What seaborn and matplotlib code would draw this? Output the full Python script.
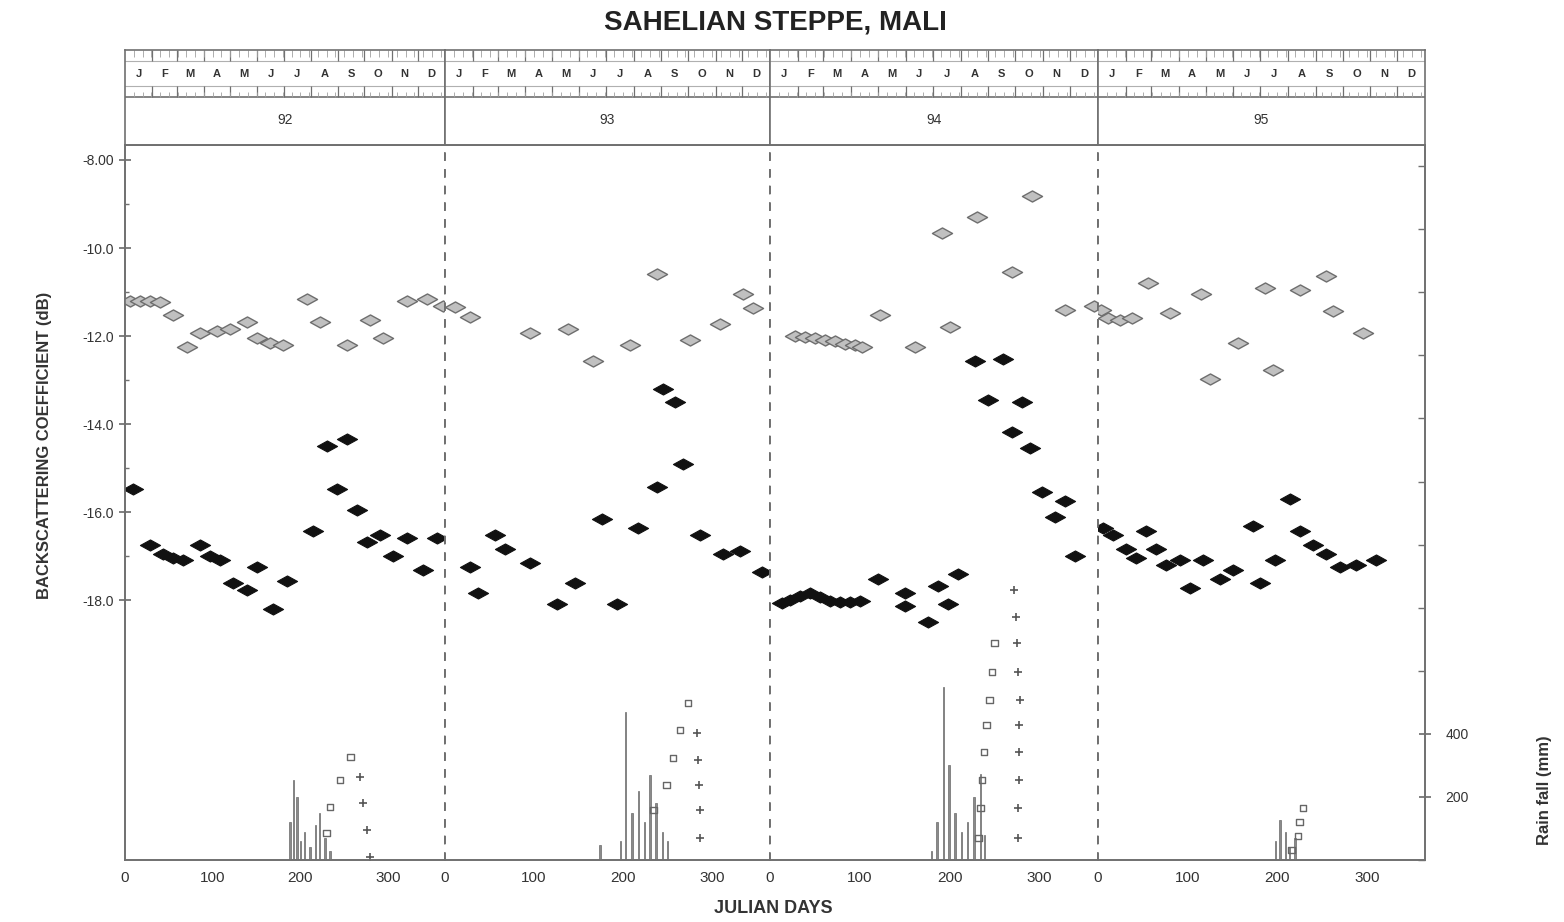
import numpy as np
import pandas as pd
import matplotlib
matplotlib.use("Agg")
import matplotlib.pyplot as plt
from matplotlib.path import Path
from matplotlib.ticker import FixedLocator
import seaborn as sns

# ---------------- data ----------------
years = ["92", "93", "94", "95"]
month_letters = ["J", "F", "M", "A", "M", "J", "J", "A", "S", "O", "N", "D"]
month_starts = [0, 31, 59, 90, 120, 151, 181, 212, 243, 273, 304, 334, 365]
day_ticks = [0, 100, 200, 300]
db_ticks = [-8, -10, -12, -14, -16, -18]
db_minor = [-9, -11, -13, -15, -17]
rain_ticks = [200, 400]

# upper series (open diamonds)
up_days = [
    [6, 17, 29, 40, 55, 71, 86, 105, 120, 139, 151, 165, 180, 208, 222, 253, 279, 294, 322, 344, 363],
    [11, 28, 95, 138, 166, 208, 238, 275, 309, 335, 346],
    [28, 39, 50, 61, 72, 83, 95, 102, 122, 161, 191, 200, 230, 269, 292, 328, 360],
    [3, 11, 25, 38, 56, 80, 115, 125, 156, 186, 195, 225, 254, 262, 296],
]
up_db = [
    [-11.20, -11.20, -11.20, -11.22, -11.52, -12.25, -11.93, -11.89, -11.85, -11.68, -12.05, -12.15, -12.20,
     -11.16, -11.68, -12.20, -11.64, -12.05, -11.20, -11.16, -11.32],
    [-11.35, -11.57, -11.93, -11.83, -12.57, -12.20, -10.59, -12.09, -11.73, -11.05, -11.36],
    [-12.00, -12.02, -12.05, -12.08, -12.12, -12.18, -12.20, -12.25, -11.52, -12.25, -9.66, -11.80,
     -9.30, -10.55, -8.82, -11.41, -11.32],
    [-11.41, -11.59, -11.64, -11.59, -10.80, -11.48, -11.05, -12.98, -12.16, -10.91, -12.77, -10.95,
     -10.64, -11.43, -11.93],
]

# lower series (filled diamonds)
lo_days = [
    [9, 29, 43, 55, 66, 86, 97, 108, 123, 139, 151, 169, 185, 214, 230, 242, 253, 265, 276, 291, 306, 322, 340, 356],
    [28, 37, 56, 67, 95, 126, 146, 176, 193, 217, 238, 245, 258, 267, 286, 312, 331, 356],
    [13, 22, 33, 45, 56, 67, 78, 89, 100, 120, 150, 150, 176, 187, 198, 209, 228, 243, 259, 269, 280,
     289, 303, 317, 328, 339],
    [6, 17, 31, 42, 54, 65, 76, 92, 103, 117, 136, 151, 173, 181, 198, 214, 225, 240, 254, 270, 288, 310],
]
lo_db = [
    [-15.48, -16.75, -16.95, -17.05, -17.09, -16.75, -17.00, -17.09, -17.61, -17.77, -17.25, -18.20,
     -17.57, -16.43, -14.50, -15.48, -14.34, -15.95, -16.68, -16.52, -17.00, -16.59, -17.32, -16.59],
    [-17.25, -17.84, -16.52, -16.84, -17.16, -18.09, -17.61, -16.16, -18.09, -16.36, -15.43, -13.20,
     -13.50, -14.91, -16.52, -16.95, -16.89, -17.36],
    [-18.07, -18.00, -17.91, -17.84, -17.93, -18.02, -18.05, -18.05, -18.02, -17.52, -17.84, -18.14,
     -18.50, -17.68, -18.09, -17.41, -12.57, -13.45, -12.52, -14.18, -13.50, -14.55, -15.55, -16.11,
     -15.75, -17.00],
    [-16.36, -16.52, -16.84, -17.05, -16.43, -16.84, -17.20, -17.09, -17.73, -17.09, -17.52, -17.32,
     -16.32, -17.61, -17.09, -15.70, -16.43, -16.75, -16.95, -17.25, -17.20, -17.09],
]

# daily rain (bars)
rain_days = [
    [188, 192, 196, 200, 205, 211, 217, 222, 228, 234],
    [174, 197, 203, 210, 217, 224, 230, 237, 244, 250],
    [180, 186, 193, 199, 206, 213, 220, 227, 234, 239],
    [198, 203, 209, 214, 220],
]
rain_mm = [
    [120, 254, 200, 60, 90, 40, 110, 150, 70, 30],
    [47, 60, 469, 150, 220, 120, 270, 180, 90, 60],
    [30, 120, 548, 300, 150, 90, 120, 200, 273, 80],
    [60, 127, 90, 40, 70],
]

# rain markers (two symbol series)
cuma_days = [
    [230, 234, 245, 257],
    [234, 249, 256, 264, 273],
    [232, 234, 236, 238, 241, 244, 247, 250],
    [216, 223, 225, 229],
]
cuma_mm = [
    [86, 168, 254, 327],
    [159, 238, 323, 412, 498],
    [70, 165, 254, 342, 428, 507, 596, 688],
    [32, 76, 120, 165],
]
cumb_days = [
    [268, 271, 276, 279],
    [283, 284, 285, 286, 286],
    [276, 276, 277, 277, 277, 278, 276, 275, 274, 272],
    [],
]
cumb_mm = [
    [263, 181, 95, 10],
    [403, 317, 238, 159, 70],
    [70, 165, 254, 342, 428, 507, 596, 688, 770, 856],
    [],
]

# ---------------- styling / layout ----------------
sns.set_theme(style="white")
plt.rcParams["font.family"] = ["Liberation Sans", "DejaVu Sans"]

W, H = 1564, 922
fig = plt.figure(figsize=(W / 100, H / 100), dpi=100)

left_px = 125
widths_px = [320, 325, 328, 327]
main_bot = 1 - 860 / H
main_top = 1 - 145 / H
head_top = 1 - 50 / H
db_lim = (-23.9, -7.66)
rain_lim = (0, 2267)
frame_col = "#707070"

wide_diamond = Path([(-1, 0), (0, 0.55), (1, 0), (0, -0.55), (-1, 0)],
                    [Path.MOVETO, Path.LINETO, Path.LINETO, Path.LINETO, Path.CLOSEPOLY])

x0 = left_px
for i in range(4):
    l = x0 / W
    w = widths_px[i] / W
    x0 += widths_px[i]
    ax = fig.add_axes([l, main_bot, w, main_top - main_bot])
    hax = fig.add_axes([l, main_top, w, head_top - main_top])
    tax = ax.twinx()

    # rain on twin axis
    tax.bar(rain_days[i], rain_mm[i], width=1.6, color="#8a8a8a", edgecolor="#6a6a6a", linewidth=0.5)
    if len(cuma_days[i]):
        sns.scatterplot(x=cuma_days[i], y=cuma_mm[i], marker="s", s=22, facecolor="none",
                        edgecolor="#666666", linewidth=1.0, ax=tax)
    if len(cumb_days[i]):
        sns.scatterplot(x=cumb_days[i], y=cumb_mm[i], marker="+", s=40, color="#555555",
                        linewidth=1.2, ax=tax)
    tax.set_ylim(*rain_lim)
    tax.set_xlim(0, 365)

    # backscatter
    up = pd.DataFrame({"day": up_days[i], "db": up_db[i]})
    lo = pd.DataFrame({"day": lo_days[i], "db": lo_db[i]})
    sns.scatterplot(data=up, x="day", y="db", marker=wide_diamond, s=210, facecolor="#c0c0c0",
                    edgecolor="#6e6e6e", linewidth=1.0, ax=ax, zorder=3)
    sns.scatterplot(data=lo, x="day", y="db", marker=wide_diamond, s=210, color="#111111",
                    edgecolor="#111111", linewidth=0.8, ax=ax, zorder=4)
    ax.set_xlim(0, 365)
    ax.set_ylim(*db_lim)
    ax.set_xlabel("")
    ax.set_ylabel("")
    ax.set_xticks(day_ticks)
    ax.set_xticklabels([str(d) for d in day_ticks], fontsize=11, color="#333333")
    ax.tick_params(axis="x", direction="in", length=5, color=frame_col, pad=8)
    if i == 0:
        ax.set_yticks(db_ticks)
        ax.set_yticklabels(["%.2f" % v if abs(v) < 10 else "%.1f" % v for v in db_ticks],
                           fontsize=10, color="#333333")
        ax.yaxis.set_minor_locator(FixedLocator(db_minor))
        ax.tick_params(axis="y", which="major", direction="inout", length=9, color=frame_col)
        ax.tick_params(axis="y", which="minor", direction="in", length=3, color=frame_col, left=True)
    else:
        ax.set_yticks([])
    for s in ["top", "bottom", "left", "right"]:
        ax.spines[s].set_color(frame_col)
        tax.spines[s].set_color(frame_col)
        ax.spines[s].set_linewidth(1.2)
        tax.spines[s].set_linewidth(1.2)
    if i > 0:
        ax.spines["left"].set_linestyle((0, (4, 6)))
        tax.spines["left"].set_linestyle((0, (4, 6)))
    if i < 3:
        ax.spines["right"].set_linestyle((0, (4, 6)))
        tax.spines["right"].set_linestyle((0, (4, 6)))
        tax.set_yticks([])
    else:
        tax.set_yticks(rain_ticks)
        tax.set_yticklabels([str(v) for v in rain_ticks], fontsize=10, color="#333333")
        tax.yaxis.set_minor_locator(FixedLocator(np.arange(0, 2267, 200)))
        tax.tick_params(axis="y", which="major", direction="inout", length=9, color=frame_col, pad=10)
        tax.tick_params(axis="y", which="minor", direction="in", length=5, color=frame_col, right=True)
    tax.set_ylabel("")

    # header: months + year
    hax.set_xlim(0, 365)
    hax.set_ylim(0, 1)
    hax.set_xticks([])
    hax.set_yticks([])
    for s in ["top", "bottom", "left", "right"]:
        hax.spines[s].set_color(frame_col)
        hax.spines[s].set_linewidth(1.2)
    hax.axhline(0.51, color=frame_col, lw=1.2)
    hax.axhline(0.88, color="#b0b0b0", lw=0.8)
    hax.axhline(0.62, color="#b0b0b0", lw=0.8)
    hax.vlines(month_starts[1:-1], 0.88, 1.0, color=frame_col, lw=0.9)
    hax.vlines(month_starts[1:-1], 0.51, 0.62, color=frame_col, lw=0.9)
    dek = [d for d in range(10, 365, 10)]
    hax.vlines(dek, 0.93, 1.0, color="#a0a0a0", lw=0.6)
    hax.vlines(dek, 0.51, 0.56, color="#a0a0a0", lw=0.6)
    for k, letter in enumerate(month_letters):
        c = (month_starts[k] + month_starts[k + 1]) / 2
        hax.text(c, 0.75, letter, ha="center", va="center", fontsize=8, color="#333333",
                 fontweight="bold")
    hax.text(182.5, 0.26, years[i], ha="center", va="center", fontsize=10, color="#333333")

fig.text(775 / W, 1 - 22 / H, "SAHELIAN STEPPE, MALI", ha="center", va="center",
         fontsize=20, fontweight="bold", color="#222222")
fig.text(773 / W, 1 - 908 / H, "JULIAN DAYS", ha="center", va="center",
         fontsize=13, fontweight="bold", color="#333333")
fig.text(45 / W, 1 - 445 / H, "BACKSCATTERING COEFFICIENT (dB)", ha="center", va="center",
         rotation=90, fontsize=12, fontweight="bold", color="#333333")
fig.text(1545 / W, 1 - 790 / H, "Rain fall (mm)", ha="center", va="center",
         rotation=90, fontsize=12, fontweight="bold", color="#333333")

fig.savefig("out.png", dpi=100)
